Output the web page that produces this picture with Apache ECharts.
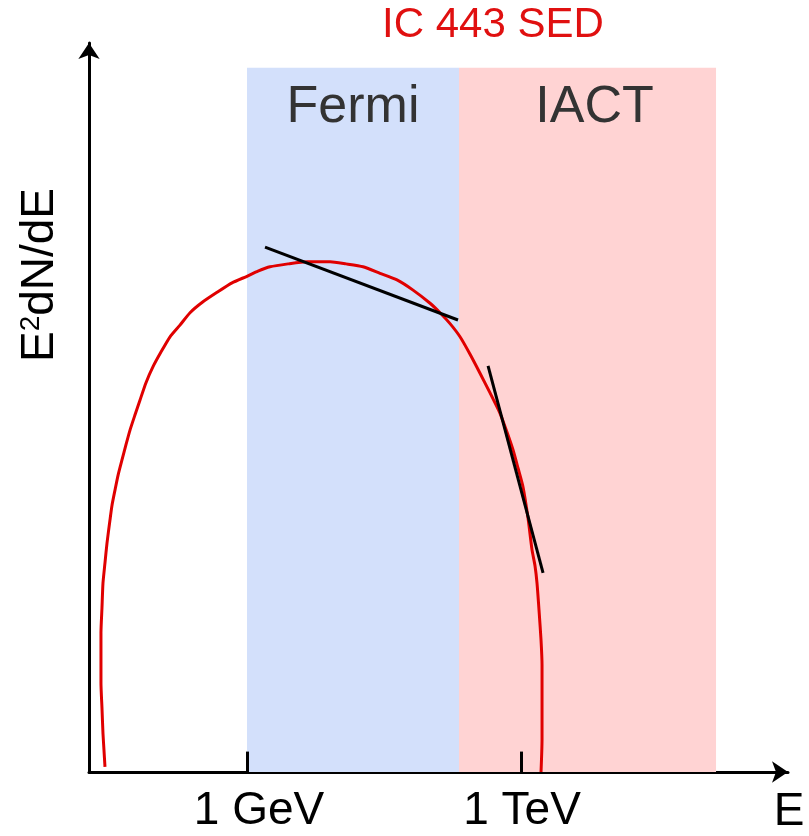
<!DOCTYPE html>
<html>
<head>
<meta charset="utf-8">
<script src="https://cdn.jsdelivr.net/npm/echarts@6/dist/echarts.min.js"></script>
<style>html,body{margin:0;padding:0;background:#fff}#c{width:809px;height:836px}</style>
</head>
<body>
<div id="c"></div>
<script>
// x = log10(E / 1 GeV), y = E^2 dN/dE (arbitrary units)
const curveX = [-1.555,-1.566,-1.577,-1.588,-1.599,-1.599,-1.599,-1.588,-1.577,-1.555,-1.533,-1.500,-1.478,-1.445,-1.412,-1.369,-1.325,-1.281,-1.226,-1.172,-1.106,-1.029,-0.942,-0.843,-0.734,-0.624,-0.482,-0.328,-0.164,0.000,0.120,0.252,0.449,0.657,0.777,0.909,1.084,1.270,1.456,1.642,1.818,2.004,2.113,2.223,2.332,2.442,2.551,2.661,2.770,2.847,2.912,2.967,3.022,3.077,3.120,3.153,3.175,3.197,3.219,3.230,3.230,3.230,3.230,3.219];
const curveY = [0.007,0.030,0.053,0.088,0.122,0.156,0.191,0.225,0.259,0.287,0.314,0.346,0.366,0.387,0.407,0.428,0.449,0.469,0.490,0.510,0.534,0.556,0.576,0.597,0.613,0.630,0.645,0.658,0.671,0.680,0.687,0.693,0.697,0.700,0.700,0.700,0.697,0.693,0.684,0.675,0.661,0.643,0.630,0.615,0.597,0.573,0.547,0.520,0.492,0.466,0.442,0.417,0.391,0.348,0.305,0.283,0.259,0.222,0.181,0.147,0.112,0.078,0.044,0.000];
const fermiFitX = [0.197, 2.310];
const fermiFitY = [0.720, 0.620];
const iactFitX = [2.639, 3.241];
const iactFitY = [0.557, 0.273];
const bandNames = ['Fermi', 'IACT'];
const bandStart = [0.0, 2.321];
const bandEnd = [2.321, 5.135];
const bandTop = 0.966;
const tickValues = [0, 3];
const tickLabels = ['1 GeV', '1 TeV'];
const tickHeight = 0.028;
const xMin = -1.73, xMax = 5.923;

const FONT = 'Liberation Sans, Arial, sans-serif';
const zip = (a, b) => a.map((v, i) => [v, b[i]]);
const bandColors = ['#d3e0fb', '#ffd3d3'];

const chart = echarts.init(document.getElementById('c'), null, {renderer: 'canvas'});
chart.setOption({
  backgroundColor: '#fff',
  animation: false,
  title: {
    text: 'IC 443 SED', left: 377, top: -1,
    textStyle: {color: '#e01010', fontSize: 42, fontWeight: 'normal', fontFamily: FONT}
  },
  grid: {left: 89, right: 21, top: 43, bottom: 64},
  xAxis: {
    type: 'value', min: xMin, max: xMax,
    splitLine: {show: false},
    axisLine: {show: true, onZero: false, symbol: ['none', 'arrow'], symbolSize: [16, 16],
      lineStyle: {color: '#000', width: 3}},
    axisTick: {show: false},
    axisLabel: {show: true, customValues: tickValues, margin: 16,
      color: '#000', fontSize: 46, fontFamily: FONT,
      formatter: v => {
        const i = tickValues.indexOf(Math.round(v));
        return i === 0 ? '{a|' + tickLabels[0] + '}' : '{b|' + tickLabels[1] + '}';
      },
      rich: {
        a: {fontSize: 46, fontFamily: FONT, color: '#000', padding: [0, 0, 0, 24]},
        b: {fontSize: 46, fontFamily: FONT, color: '#000', padding: [0, 0, 0, 2]}
      }
    }
  },
  yAxis: {
    type: 'value', min: 0, max: 1,
    splitLine: {show: false},
    axisLine: {show: true, onZero: false, symbol: ['none', 'arrow'], symbolSize: [16, 16],
      lineStyle: {color: '#000', width: 3}},
    axisTick: {show: false},
    axisLabel: {show: false}
  },
  graphic: [
    {type: 'text', x: 40, y: 275, rotation: Math.PI / 2,
      style: {text: 'E{s|2}dN/dE', fill: '#000', font: '46px ' + FONT,
        align: 'center', verticalAlign: 'middle',
        rich: {s: {fontSize: 28, fontFamily: FONT, fill: '#000', verticalAlign: 'top', padding: [0, 0, 18, 0]}}}},
    {type: 'text', x: 789, y: 812,
      style: {text: 'E', fill: '#000', font: '46px ' + FONT, align: 'center', verticalAlign: 'middle'}}
  ],
  series: [
    {
      type: 'line', data: [], silent: true,
      markArea: {
        silent: true,
        label: {position: 'insideTop', distance: 14, color: '#333', fontSize: 52, fontFamily: FONT},
        data: bandNames.map((n, i) => [
          {name: n, xAxis: bandStart[i], yAxis: 0, itemStyle: {color: bandColors[i], opacity: 1},
            label: {offset: [i === 1 ? 7 : 0, 0]}},
          {xAxis: bandEnd[i], yAxis: bandTop}
        ])
      },
      markLine: {
        silent: true, symbol: ['none', 'none'], z: 6,
        lineStyle: {color: '#000', width: 3, type: 'solid'},
        label: {show: false},
        data: tickValues.map(v => [{coord: [v, 0]}, {coord: [v, tickHeight]}])
      }
    },
    {
      type: 'line', data: zip(curveX, curveY), showSymbol: false, smooth: 0.2,
      lineStyle: {color: '#e00000', width: 3}, silent: true, z: 3
    },
    {
      type: 'line', data: zip(fermiFitX, fermiFitY), showSymbol: false,
      lineStyle: {color: '#000', width: 3}, silent: true, z: 4
    },
    {
      type: 'line', data: zip(iactFitX, iactFitY), showSymbol: false,
      lineStyle: {color: '#000', width: 3}, silent: true, z: 4
    }
  ]
});
</script>
</body>
</html>
